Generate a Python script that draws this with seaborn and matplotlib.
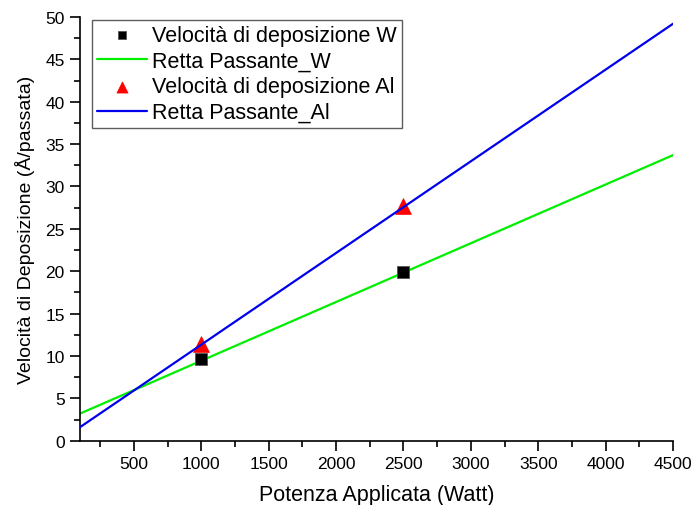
import matplotlib
matplotlib.use("Agg")
import matplotlib.pyplot as plt
import seaborn as sns
from matplotlib.ticker import MultipleLocator

sns.set_style("ticks")
plt.rcParams['font.family'] = ['Liberation Sans', 'DejaVu Sans']
plt.rcParams['text.color'] = 'black'
plt.rcParams['axes.labelcolor'] = 'black'
plt.rcParams['xtick.color'] = 'black'
plt.rcParams['ytick.color'] = 'black'

# data
power_pts = [1000, 2500]
rate_w = [9.7, 19.9]
rate_al = [11.4, 27.7]
line_x = [100, 4500]
line_w = [3.2, 33.7]
line_al = [1.6, 49.2]

fig = plt.figure(figsize=(6.92, 5.06), dpi=100)
ax = fig.add_axes([0.1156, 0.127, 0.857, 0.8375])

sns.scatterplot(x=power_pts, y=rate_w, ax=ax, marker='s', s=80, color='black',
                edgecolor='#555555', linewidth=0.6, label='Velocità di deposizione W', zorder=3)
sns.lineplot(x=line_x, y=line_w, ax=ax, color='#00ee00', linewidth=1.6,
             label='Retta Passante_W', zorder=2)
sns.scatterplot(x=power_pts, y=rate_al, ax=ax, marker='^', s=130, color='red',
                edgecolor='red', linewidth=0.5, label='Velocità di deposizione Al', zorder=3)
sns.lineplot(x=line_x, y=line_al, ax=ax, color='#0000ee', linewidth=1.6,
             label='Retta Passante_Al', zorder=4)

ax.set_xlim(100, 4500)
ax.set_ylim(0, 50)
ax.xaxis.set_major_locator(MultipleLocator(500))
ax.xaxis.set_minor_locator(MultipleLocator(250))
ax.yaxis.set_major_locator(MultipleLocator(5))
ax.yaxis.set_minor_locator(MultipleLocator(2.5))
ax.tick_params(which='major', length=7, width=1.2, labelsize=12.5, colors='black',
               direction='out', pad=4)
ax.tick_params(which='minor', length=4, width=1.2, direction='out', colors='black')
for s in ['top', 'right']:
    ax.spines[s].set_visible(False)
for s in ['left', 'bottom']:
    ax.spines[s].set_linewidth(1.2)
    ax.spines[s].set_color('black')

ax.set_xlabel('Potenza Applicata (Watt)', fontsize=15.5, labelpad=9, color='black')
ax.set_ylabel('Velocità di Deposizione (Å/passata)', fontsize=14, labelpad=7, color='black')

leg = ax.legend(loc='upper left', bbox_to_anchor=(0.02, 0.994), frameon=True, fancybox=False,
                fontsize=15.5, handlelength=2.3, handletextpad=0.25, borderpad=0.25,
                labelspacing=0.22, borderaxespad=0.0, markerscale=0.7)
leg.get_frame().set_edgecolor('#333333')
leg.get_frame().set_linewidth(1.0)
for t in leg.get_texts():
    t.set_color('black')

fig.savefig('out.png', dpi=100)
